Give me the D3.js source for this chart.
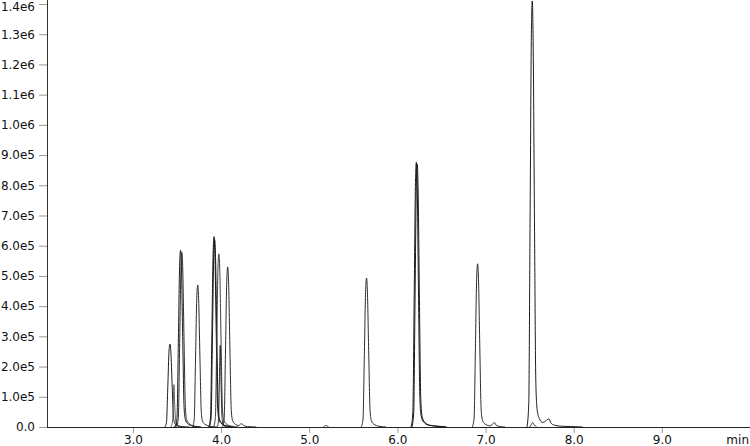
<!DOCTYPE html>
<html>
<head>
<meta charset="utf-8">
<script src="https://cdn.jsdelivr.net/npm/d3@7"></script>
<style>
  html, body { margin: 0; padding: 0; background: #fff; }
  svg { display: block; }
  text { font-family: "DejaVu Sans", Verdana, sans-serif; font-size: 12px; fill: #111; }
</style>
</head>
<body>
<svg id="chart" width="750" height="446"></svg>
<script>
// ---- Data (retention time in min, intensity in counts) ----
const xTickValues = [3, 4, 5, 6, 7, 8, 9];
const xTickLabels = ["3.0", "4.0", "5.0", "6.0", "7.0", "8.0", "9.0"];
const yTickValues = [0, 1e5, 2e5, 3e5, 4e5, 5e5, 6e5, 7e5, 8e5, 9e5, 1e6, 1.1e6, 1.2e6, 1.3e6, 1.4e6];
const yTickLabels = ["0.0", "1.0e5", "2.0e5", "3.0e5", "4.0e5", "5.0e5", "6.0e5", "7.0e5", "8.0e5", "9.0e5", "1.0e6", "1.1e6", "1.2e6", "1.3e6", "1.4e6"];
const xUnit = "min";

const trace342 = [[3.36,0],[3.38,14000],[3.395,130000],[3.41,255000],[3.42,275000],[3.43,250000],[3.445,135000],[3.46,32000],[3.475,12000],[3.5,5500],[3.56,1400],[3.64,0]];
const trace346 = [[3.43,0],[3.45,20000],[3.458,80000],[3.465,140000],[3.472,85000],[3.485,20000],[3.5,6000],[3.54,0]];
const trace349 = [[3.46,0],[3.48,4000],[3.495,10000],[3.51,4000],[3.53,0]];
const trace354 = [[3.48,0],[3.5,32000],[3.515,280000],[3.53,540000],[3.54,585000],[3.55,530000],[3.565,285000],[3.58,65000],[3.595,24000],[3.62,11700],[3.68,2900],[3.76,0]];
const trace355 = [[3.495,0],[3.515,32000],[3.53,276000],[3.545,534000],[3.555,578000],[3.565,523000],[3.58,280000],[3.595,64000],[3.61,23500],[3.635,11600],[3.695,2900],[3.775,0]];
const trace373 = [[3.675,0],[3.695,25000],[3.71,225000],[3.725,435000],[3.735,470000],[3.745,426000],[3.76,228000],[3.775,52000],[3.79,19000],[3.815,9400],[3.875,2350],[3.955,0]];
const trace392 = [[3.86,0],[3.88,34000],[3.895,302000],[3.91,582000],[3.92,630000],[3.93,570000],[3.945,305000],[3.96,70000],[3.975,26000],[4.0,12600],[4.06,3150],[4.14,0]];
const trace393 = [[3.867,0],[3.887,33000],[3.902,297000],[3.917,573000],[3.927,620000],[3.937,561000],[3.952,300000],[3.967,69000],[3.982,25500],[4.007,12400],[4.067,3100],[4.147,0]];
const trace397 = [[3.915,0],[3.935,31000],[3.95,275000],[3.965,530000],[3.975,573000],[3.985,518000],[4.0,278000],[4.015,63000],[4.03,23500],[4.055,11460],[4.115,2865],[4.195,0]];
const trace399 = [[3.955,0],[3.97,20000],[3.98,140000],[3.99,270000],[4.0,140000],[4.012,25000],[4.03,5000],[4.06,0]];
const trace408 = [[4.015,0],[4.035,28500],[4.05,255000],[4.065,490000],[4.075,530000],[4.085,480000],[4.1,258000],[4.115,58000],[4.13,22000],[4.155,10600],[4.2,5000],[4.23,11000],[4.26,4000],[4.3,1500],[4.4,0]];
const trace519 = [[5.16,0],[5.19,5000],[5.22,0]];
const trace565 = [[5.59,0],[5.61,26500],[5.625,237000],[5.64,456000],[5.65,493000],[5.66,446000],[5.675,240000],[5.69,54000],[5.705,20500],[5.73,9860],[5.79,2465],[5.87,0]];
const trace621 = [[6.155,0],[6.175,47000],[6.19,420000],[6.205,810000],[6.215,877000],[6.225,793000],[6.24,425000],[6.255,96000],[6.27,36000],[6.295,17540],[6.355,6000],[6.45,2500],[6.55,0]];
const trace622 = [[6.165,0],[6.185,46500],[6.2,416000],[6.215,804000],[6.225,870000],[6.235,787000],[6.25,421000],[6.265,95000],[6.28,35700],[6.305,17400],[6.365,6000],[6.46,2500],[6.56,0]];
const trace691 = [[6.85,0],[6.87,29000],[6.885,260000],[6.9,500000],[6.91,540000],[6.92,489000],[6.935,262000],[6.95,59000],[6.965,22500],[6.99,10800],[7.05,4000],[7.08,9000],[7.1,15000],[7.12,6000],[7.16,1500],[7.22,0]];
const trace753 = [[7.47,0],[7.49,76000],[7.505,676000],[7.52,1302000],[7.53,1410000],[7.54,1275000],[7.555,683000],[7.57,155000],[7.585,58000],[7.61,28200],[7.65,15000],[7.69,22000],[7.72,27000],[7.74,14000],[7.78,6000],[7.86,2500],[7.96,1500],[8.1,0]];
const trace754 = [[7.5,0],[7.52,8000],[7.535,15000],[7.55,8000],[7.58,0]];

const traces = [trace342, trace346, trace349, trace354, trace355, trace373, trace392, trace393,
                trace397, trace399, trace408, trace519, trace565, trace621, trace622, trace691, trace753, trace754];
const traceColors = ["#111", "#555", "#333", "#111", "#222", "#222", "#111", "#111",
                     "#333", "#222", "#222", "#333", "#222", "#111", "#111", "#222", "#111", "#333"];

// ---- Layout ----
const svg = d3.select("#chart");
const x = d3.scaleLinear().domain([2.025, 10.0]).range([47, 750]);
const y = d3.scaleLinear().domain([0, 1.4e6]).range([427, 4]);

// traces
const line = d3.line()
  .x(d => x(d[0]))
  .y(d => y(d[1]))
  .curve(d3.curveMonotoneX);

svg.append("g")
  .selectAll("path")
  .data(traces)
  .join("path")
  .attr("d", line)
  .attr("fill", "none")
  .attr("stroke", (d, i) => traceColors[i])
  .attr("stroke-width", 0.95);

// y axis
const yAxis = d3.axisLeft(y)
  .tickValues(yTickValues)
  .tickFormat((d, i) => yTickLabels[i])
  .tickSize(8)
  .tickPadding(4);
const gy = svg.append("g").attr("transform", "translate(47,0)").call(yAxis);
gy.select(".domain").remove();
gy.selectAll(".tick line").attr("stroke", "#999");
gy.selectAll(".tick text").attr("fill", "#111").style("font-family", "'DejaVu Sans', Verdana, sans-serif").style("font-size", "12px");
// keep the top label inside the picture
gy.selectAll(".tick text").filter(d => d === 1.4e6).attr("dy", "0.32em").attr("y", 2.5);
svg.append("line").attr("x1", 47.5).attr("x2", 47.5).attr("y1", 0).attr("y2", 427.5)
  .attr("stroke", "#333").attr("stroke-width", 1);

// x axis
const xAxis = d3.axisBottom(x)
  .tickValues(xTickValues)
  .tickFormat((d, i) => xTickLabels[i])
  .tickSize(6)
  .tickPadding(2);
const gx = svg.append("g").attr("transform", "translate(0,427)").call(xAxis);
gx.select(".domain").remove();
gx.selectAll(".tick line").attr("stroke", "#999");
gx.selectAll(".tick text").attr("fill", "#111").style("font-family", "'DejaVu Sans', Verdana, sans-serif").style("font-size", "12px");
svg.append("line").attr("x1", 47).attr("x2", 750).attr("y1", 427.5).attr("y2", 427.5)
  .attr("stroke", "#222").attr("stroke-width", 1.2);

svg.append("text")
  .attr("x", 749)
  .attr("y", 444)
  .attr("text-anchor", "end")
  .text(xUnit);
</script>
</body>
</html>
